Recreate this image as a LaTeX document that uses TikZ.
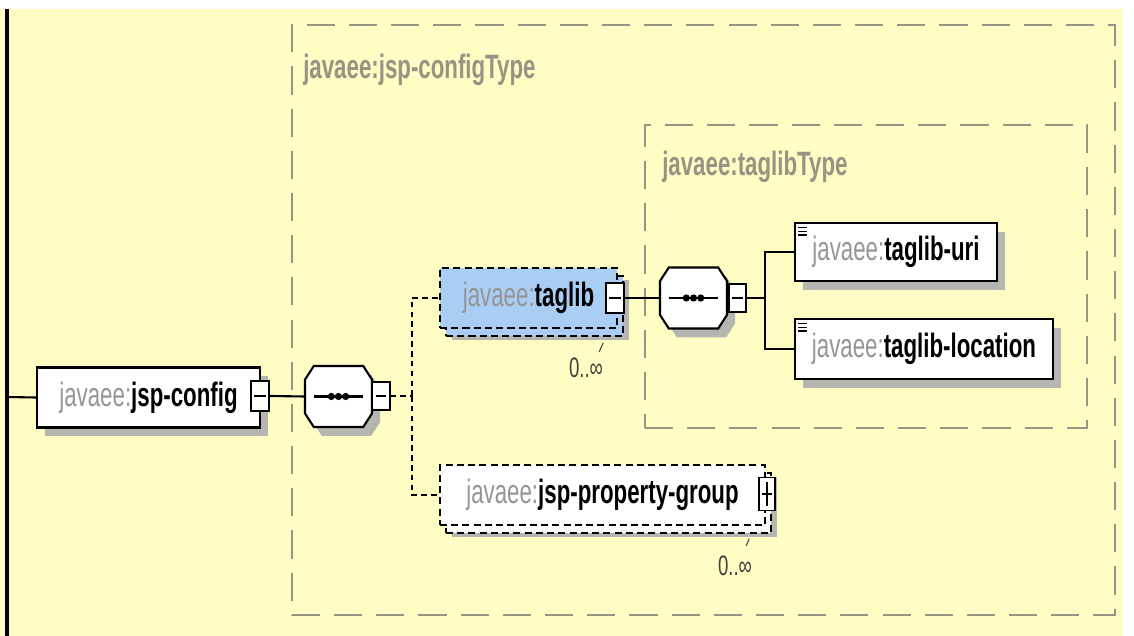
\documentclass[tikz,border=0pt]{standalone}
\usepackage{fontspec}
\setmainfont[FakeStretch=0.66]{Liberation Sans}
\usepackage{tikz}
\usetikzlibrary{shadows}
\definecolor{bgyellow}{RGB}{255,252,196}
\definecolor{typegray}{RGB}{150,148,130}
\definecolor{nsgray}{RGB}{150,150,150}
\definecolor{tagblue}{RGB}{170,205,243}
\definecolor{shadegray}{RGB}{182,182,176}
\tikzstyle{typebox} = [rectangle, draw=typegray, line width=1.6pt, dash pattern=on 20pt off 10pt]
\tikzstyle{typelabel} = [anchor=west, inner sep=0pt, text=typegray, font=\fontsize{24}{28}\selectfont\bfseries]
\tikzstyle{elem} = [rectangle, draw=black, line width=1.5pt, fill=white, minimum height=1.5cm, inner sep=2pt, drop shadow={shadow xshift=0.2cm, shadow yshift=-0.22cm, fill=shadegray, opacity=1}]
\tikzstyle{leafelem} = [elem, path picture={\foreach \yy in {3pt,5.8pt,8.6pt} \draw[black, line width=0.9pt] ([xshift=2.5pt,yshift=-\yy]path picture bounding box.north west) -- ++(6pt,0);}]
\tikzstyle{optelem} = [rectangle, draw=black, line width=1.5pt, dash pattern=on 5pt off 3pt, minimum height=1.5cm, inner sep=2pt, drop shadow={shadow xshift=0.3cm, shadow yshift=-0.3cm, fill=shadegray, opacity=1}]
\tikzstyle{stackcopy} = [shadow xshift=0.15cm, shadow yshift=-0.2cm, draw=black, line width=1.5pt, dash pattern=on 5pt off 3pt, opacity=1]
\tikzstyle{minusbox} = [rectangle, draw=black, line width=1.2pt, fill=white, minimum width=0.46cm, minimum height=0.76cm, inner sep=0pt, path picture={\draw[black, line width=1.2pt] ([xshift=2.5pt]path picture bounding box.west) -- ([xshift=-2.5pt]path picture bounding box.east);}]
\tikzstyle{plusbox} = [rectangle, draw=black, line width=1.2pt, fill=white, minimum width=0.4cm, minimum height=0.82cm, inner sep=0pt, path picture={\draw[black, line width=1.2pt] ([xshift=2pt]path picture bounding box.west) -- ([xshift=-2pt]path picture bounding box.east); \draw[black, line width=1.2pt] ([yshift=-3pt]path picture bounding box.north) -- ([yshift=3pt]path picture bounding box.south);}]
\tikzstyle{seqanchor} = [rectangle, inner sep=0pt, outer sep=0pt, minimum width=1.675cm, minimum height=1.525cm]
\tikzstyle{mult} = [inner sep=0pt, text=black!75, font=\fontsize{20}{24}\selectfont]
\tikzstyle{conn} = [draw=black, line width=1.5pt]
\tikzstyle{optconn} = [draw=black, line width=1.5pt, dash pattern=on 4pt off 3pt]
% octagon of a sequence compositor, drawn round a seqanchor node
\newcommand{\seqoutline}[1]{([xshift=0.22cm]#1.north west) -- ([xshift=-0.22cm]#1.north east) -- ([yshift=-0.34cm]#1.north east) -- ([yshift=0.34cm]#1.south east) -- ([xshift=-0.22cm]#1.south east) -- ([xshift=0.22cm]#1.south west) -- ([yshift=0.34cm]#1.south west) -- ([yshift=-0.34cm]#1.north west) -- cycle}
\newcommand{\seqdraw}[1]{%
  \fill[shadegray, transform canvas={shift={(0.2cm,-0.22cm)}}] \seqoutline{#1};
  \draw[fill=white, line width=1.5pt] \seqoutline{#1};
  \draw[line width=1.8pt] ([xshift=-0.62cm]#1.center) -- ([xshift=0.62cm]#1.center);
  \foreach \dx in {-0.18,0,0.18} \fill[black] ([xshift=\dx cm]#1.center) circle (0.09cm);}

\begin{document}
\begin{tikzpicture}[x=0.025cm, y=-0.025cm, font=\fontsize{24}{28}\selectfont]
\useasboundingbox (0,0) rectangle (1134,636);
\fill[white] (0,0) rectangle (1134,636);
\fill[bgyellow] (0,9) rectangle (1123,636);
\coordinate (railtop) at (7,9);
\coordinate (railbot) at (7,636);
\coordinate (root) at (7,397);
\draw[line width=2.2pt] (railtop) -- (railbot);
% complex types
\node (cfgtype) [typebox, minimum width=20.575cm, minimum height=14.75cm] at (703.5,320) {};
\node (cfgtypelabel) [typelabel] at (303,70) {javaee:jsp-configType};
\node (libtype) [typebox, minimum width=11.05cm, minimum height=7.575cm] at (866,276.5) {};
\node (libtypelabel) [typelabel] at (662,167) {javaee:taglibType};
% elements
\node (config) [elem, minimum width=5.575cm] at (148.5,397.5) {\textcolor{nsgray}{javaee:}\textbf{jsp-config}\hspace{0.2cm}};
\node (cfgminus) [minusbox] at (260,396) {};
\node (seqA) [seqanchor] at (338.5,396.5) {};
\seqdraw{seqA}
\node (seqAminus) [minusbox, minimum width=0.44cm, minimum height=0.7cm] at (381,396) {};
\node (taglib) [optelem, fill=tagblue, minimum width=4.425cm, copy shadow={stackcopy, fill=tagblue}] at (528.5,298) {\textcolor{nsgray}{javaee:}\textbf{taglib}\hspace{0.35cm}};
\node (taglibminus) [minusbox] at (615,298) {};
\node (taglibmult) [mult] at (586,368) {0..∞};
\node (seqB) [seqanchor] at (693.5,298) {};
\seqdraw{seqB}
\node (seqBminus) [minusbox, minimum width=0.44cm, minimum height=0.7cm] at (737.5,298) {};
\node (uri) [leafelem, minimum width=5.05cm, minimum height=1.45cm] at (896,252) {\textcolor{nsgray}{javaee:}\textbf{taglib-uri}};
\node (loc) [leafelem, minimum width=6.45cm] at (924,349) {\textcolor{nsgray}{javaee:}\textbf{taglib-location}};
\node (propgroup) [optelem, fill=white, minimum width=8.125cm, copy shadow={stackcopy, fill=white}] at (602.5,495) {\textcolor{nsgray}{javaee:}\textbf{jsp-property-group}\hspace{0.25cm}};
\node (propplus) [plusbox] at (767,494) {};
\node (propmult) [mult] at (735,566) {0..∞};
\coordinate (forkA) at (412,396);
\coordinate (forkB) at (765,298);
% connectors
\draw [conn] (root) -- (config.west);
\draw [conn] (cfgminus.east) -- (seqA.west);
\draw [optconn] (seqAminus.east) -- (forkA);
\draw [optconn] (forkA) |- (taglib.west);
\draw [optconn] (forkA) |- (propgroup.west);
\draw [conn] (taglibminus.east) -- (seqB.west);
\draw [conn] (seqBminus.east) -- (forkB);
\draw [conn] (forkB) |- (uri.west);
\draw [conn] (forkB) |- (loc.west);
\draw [line width=0.8pt, black!70] ([shift={(-4,-6)}]taglibmult.north east) -- ++(4,-9);
\draw [line width=0.8pt, black!70] ([shift={(-6,-10)}]propmult.north east) -- ++(3,-7);
\end{tikzpicture}
\end{document}
